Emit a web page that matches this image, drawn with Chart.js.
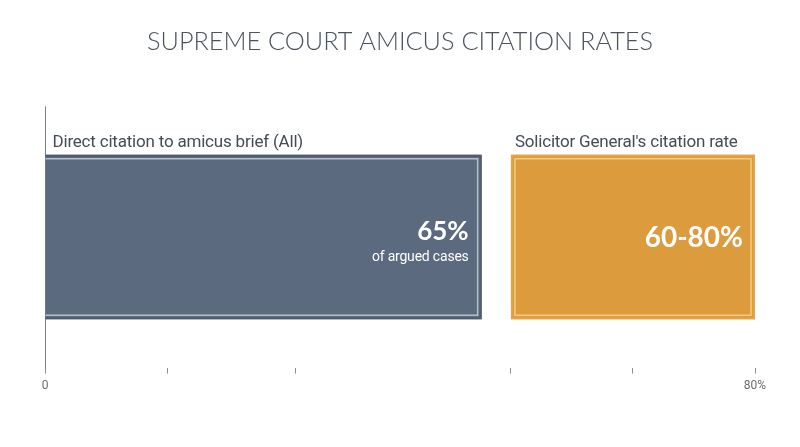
<!DOCTYPE html>
<html>
<head>
<meta charset="utf-8">
<script src="https://cdn.jsdelivr.net/npm/chart.js@4.4.0/dist/chart.umd.min.js"></script>
<style>
  html, body { margin: 0; padding: 0; background: #fff; }
  #wrap { width: 800px; height: 447px; }
</style>
</head>
<body>
<div id="wrap"><canvas id="chart"></canvas></div>
<script>
// Data
const rowLabels = ['Citation rate'];
const seriesNames = ['Direct citation to amicus brief (All)', "Solicitor General's citation rate"];
const directRange = [0, 49.2];
const sgRange = [52.5, 80];
const bigLabels = ['65%', '60-80%'];
const subLabels = ['of argued cases', ''];
const tickValues = [0, 13.75, 28.2, 52.5, 66.25, 80];
const tickText = { 0: '0', 80: '80%' };

const fills = ['#5b6a7e', '#dc9b3c'];
const edges = ['#4e5c6e', '#e2a447'];
const innerLines = ['#b3c1cb', '#f4cb7f'];

// open rect: the first bar sits on the axis, so its left side gets no edge
const edgePath = (ctx, l, t, r, b, openLeft) => {
    ctx.beginPath();
    if (openLeft) {
        ctx.moveTo(l, t);
        ctx.lineTo(r, t);
        ctx.lineTo(r, b);
        ctx.lineTo(l, b);
    } else {
        ctx.rect(l, t, r - l, b - t);
    }
    ctx.stroke();
};

// Draws the double edge, the series names and the in-bar values
const barDecor = {
    id: 'barDecor',
    afterDatasetsDraw(chart) {
        const ctx = chart.ctx;
        chart.data.datasets.forEach((ds, i) => {
            const bar = chart.getDatasetMeta(i).data[0];
            const left = Math.min(bar.x, bar.base);
            const right = Math.max(bar.x, bar.base);
            const top = bar.y - bar.height / 2;
            const bottom = bar.y + bar.height / 2;
            const openLeft = i === 0;

            ctx.save();
            ctx.lineWidth = 2;
            ctx.strokeStyle = edges[i];
            edgePath(ctx, openLeft ? left : left + 1, top + 1, right - 1, bottom - 1, openLeft);
            ctx.lineWidth = 1.5;
            ctx.strokeStyle = innerLines[i];
            edgePath(ctx, openLeft ? left : left + 4, top + 4, right - 4, bottom - 4, openLeft);

            // series name above the bar
            ctx.fillStyle = '#454c55';
            ctx.font = '17px Roboto';
            ctx.letterSpacing = '-0.2px';
            ctx.textAlign = 'left';
            ctx.textBaseline = 'alphabetic';
            ctx.fillText(ds.label, left + (i === 0 ? 7 : 4), top - 8);

            // value inside the bar
            ctx.fillStyle = '#ffffff';
            ctx.textAlign = 'right';
            ctx.letterSpacing = '0px';
            if (subLabels[i]) {
                ctx.font = 'bold 26px Lato';
                ctx.fillText(bigLabels[i], right - 13, bar.y + 3);
                ctx.font = '14px Roboto';
                ctx.letterSpacing = '-0.2px';
                ctx.fillText(subLabels[i], right - 13, bar.y + 24);
            } else {
                ctx.font = 'bold 28px Lato';
                ctx.textBaseline = 'middle';
                ctx.fillText(bigLabels[i], right - 12, bar.y + 1);
            }
            ctx.restore();
        });
    }
};

new Chart(document.getElementById('chart'), {
    type: 'bar',
    data: {
        labels: rowLabels,
        datasets: [
            { label: seriesNames[0], data: [directRange], backgroundColor: fills[0], borderWidth: 0 },
            { label: seriesNames[1], data: [sgRange], backgroundColor: fills[1], borderWidth: 0 }
        ]
    },
    options: {
        indexAxis: 'y',
        responsive: true,
        maintainAspectRatio: false,
        animation: false,
        grouped: false,
        barPercentage: 0.63,
        categoryPercentage: 1,
        layout: {
            padding: { left: 45, right: 45, top: 0, bottom: 49 }
        },
        plugins: {
            legend: { display: false },
            tooltip: { enabled: false },
            title: {
                display: true,
                text: 'SUPREME COURT AMICUS CITATION RATES',
                color: '#4a535e',
                font: { family: 'Lato', size: 25.3, weight: '300' },
                padding: { top: 27, bottom: 49 }
            }
        },
        scales: {
            x: {
                type: 'linear',
                min: 0,
                max: 80,
                afterBuildTicks: (scale) => {
                    scale.ticks = tickValues.map(v => ({ value: v }));
                },
                border: { display: false },
                grid: {
                    drawOnChartArea: true,
                    color: (c) => (c.tick && c.tick.value === 0 ? '#7a7f86' : 'rgba(0,0,0,0)'),
                    tickColor: '#8a8f96',
                    tickLength: 6,
                    lineWidth: 1
                },
                ticks: {
                    autoSkip: false,
                    maxRotation: 0,
                    color: '#666c73',
                    font: { family: 'Roboto', size: 12 },
                    padding: 5,
                    callback: (v) => tickText[v] || ''
                }
            },
            y: {
                display: false
            }
        }
    },
    plugins: [barDecor]
});
</script>
</body>
</html>
